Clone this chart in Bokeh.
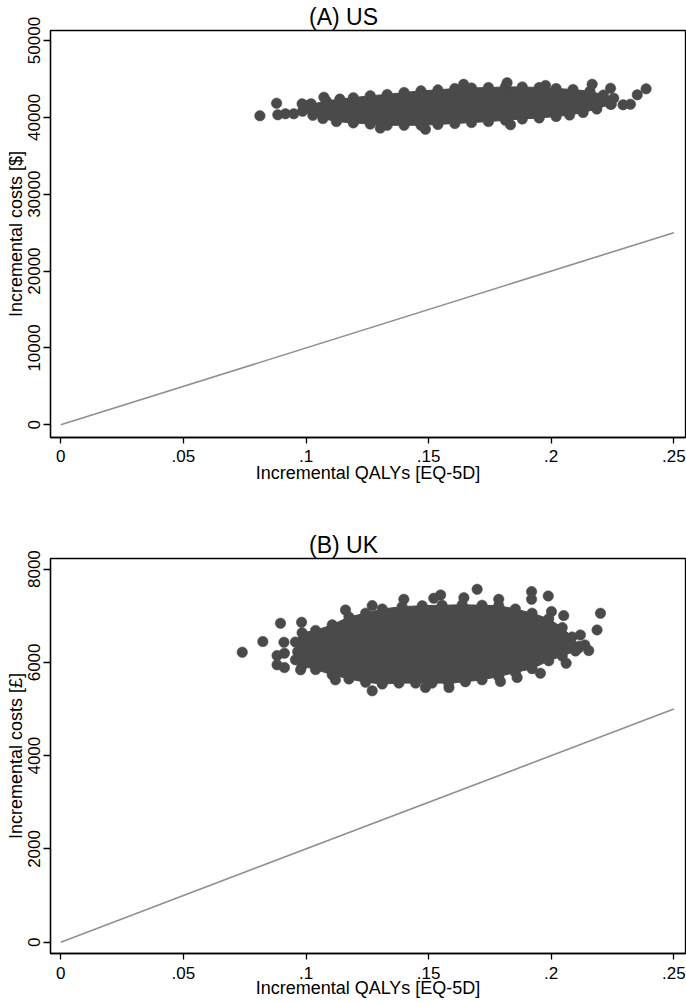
from bokeh.plotting import figure
from bokeh.layouts import column
from bokeh.models import Range1d, FixedTicker, CustomJSTickFormatter, BasicTickFormatter
from bokeh.embed import file_html
from bokeh.resources import INLINE

FONT = "Liberation Sans"
DOT = "#4a4a4a"
LINE = "#8f8f8f"

# ---------------- data ----------------
x_ticks = [0, 0.05, 0.1, 0.15, 0.2, 0.25]
us_y_ticks = [0, 10000, 20000, 30000, 40000, 50000]
uk_y_ticks = [0, 2000, 4000, 6000, 8000]

# willingness-to-pay threshold lines
wtp_x = [0, 0.25]
us_wtp_y = [0, 25000]
uk_wtp_y = [0, 5000]

# US bootstrap cloud: replicates along the rim of the dense core
# (top left->right, then bottom right->left); the core is filled between them
us_cloud_x = [0.0990, 0.1014, 0.1083, 0.1138, 0.1193, 0.1262, 0.1331, 0.1400, 0.1469, 0.1538,
              0.1607, 0.1675, 0.1744, 0.1813, 0.1882, 0.1951, 0.2020, 0.2089, 0.2158, 0.2213,
              0.2241, 0.2245,
              0.2241, 0.2186, 0.2130, 0.2075, 0.2020, 0.1951, 0.1882, 0.1813, 0.1744, 0.1675,
              0.1607, 0.1538, 0.1469, 0.1400, 0.1331, 0.1262, 0.1193, 0.1124, 0.1069, 0.1028,
              0.0986]
us_cloud_y = [41100, 41630, 42130, 42380, 42560, 42820, 42980, 43240, 43450, 43580,
              43750, 43830, 43880, 43960, 43960, 43880, 43750, 43620, 43400, 42900,
              42080, 41700,
              41720, 41080, 40640, 40300, 40120, 39920, 39790, 39620, 39450, 39320,
              39200, 39080, 38970, 38970, 38970, 39120, 39280, 39450, 39850, 40260,
              40800]
# US individual replicates visible outside the core
us_pts_x = [0.0812, 0.0880, 0.0885, 0.0916, 0.0950, 0.0984, 0.1021, 0.1073,
            0.2167, 0.2242, 0.2255, 0.2293, 0.2323, 0.2351, 0.2387,
            0.1643, 0.1820, 0.1977, 0.1303, 0.1487, 0.1834]
us_pts_y = [40207, 41841, 40337, 40467, 40467, 41763, 41763, 42620,
            44305, 43787, 42490, 41634, 41712, 42931, 43709,
            44300, 44500, 44150, 38600, 38450, 39040]

# UK bootstrap cloud: replicates along the rim of the dense core
uk_cloud_x = [0.0957, 0.0984, 0.1039, 0.1107, 0.1175, 0.1243, 0.1311, 0.1392, 0.1474, 0.1555,
              0.1637, 0.1718, 0.1786, 0.1854, 0.1922, 0.1990, 0.2045, 0.2085, 0.2113, 0.2110,
              0.2099, 0.2045, 0.1990, 0.1922, 0.1854, 0.1786, 0.1718, 0.1650, 0.1582, 0.1514,
              0.1447, 0.1379, 0.1311, 0.1243, 0.1175, 0.1107, 0.1039, 0.0984, 0.0957, 0.0966]
uk_cloud_y = [6435, 6635, 6685, 6805, 6975, 7055, 7145, 7195, 7215, 7225,
              7235, 7225, 7215, 7145, 7055, 6935, 6745, 6545, 6345, 6300,
              6245, 6135, 6035, 5865, 5785, 5695, 5625, 5585, 5555, 5555,
              5555, 5555, 5535, 5575, 5645, 5735, 5845, 5925, 6055, 6230]
# UK individual replicates visible outside the core
uk_pts_x = [0.0740, 0.0824, 0.0896, 0.0910, 0.0882, 0.0912, 0.0882, 0.0912, 0.0982, 0.0978,
            0.2201, 0.2187, 0.2153, 0.2137, 0.2119, 0.2061, 0.2051, 0.2001, 0.1988, 0.1920,
            0.1920, 0.1698, 0.1549, 0.1956,
            0.1161, 0.1270, 0.1399, 0.1521, 0.1644, 0.1786,
            0.1120, 0.1270, 0.1487, 0.1583, 0.1793, 0.1861]
uk_pts_y = [6218, 6446, 6839, 6432, 6146, 6196, 5947, 5890, 6860, 5840,
            7053, 6696, 6254, 6375, 6589, 5982, 7003, 7089, 7424, 7517,
            7353, 7567, 7446, 5768,
            7124, 7217, 7353, 7374, 7388, 7353,
            5625, 5390, 5461, 5461, 5590, 5675]

X_RANGE = (-0.0042, 0.25477)
TITLE_PX = 23


def panel(title, ylabel, yrange, yticks, height, border_top, border_bottom,
          line_y, cloud_x, cloud_y, pts_x, pts_y, x_std, x_axstd):
    p = figure(width=686, height=height,
               x_range=Range1d(*X_RANGE), y_range=Range1d(*yrange),
               output_backend="svg", toolbar_location=None,
               min_border_left=50, min_border_right=1,
               min_border_top=border_top, min_border_bottom=border_bottom)
    p.title.text = title
    # title centred on the whole graph (x = 343), not on the plot frame
    p.title.align = "left"
    p.title.offset = 343 - 50 - 1.5 * TITLE_PX
    p.title.text_font = FONT
    p.title.text_font_size = f"{TITLE_PX}px"
    p.title.text_font_style = "normal"
    p.title.text_color = "black"
    p.title.standoff = 2
    p.grid.visible = False
    p.outline_line_color = "black"
    p.outline_line_width = 1.3
    p.background_fill_color = "white"
    p.border_fill_color = "white"

    xa = p.xaxis[0]
    xa.ticker = FixedTicker(ticks=x_ticks)
    xa.formatter = CustomJSTickFormatter(code="""
        if (tick == 0) { return "0"; }
        return tick.toFixed(2).replace(/0+$/, "").replace(/^0/, "");
    """)
    xa.axis_label = "Incremental QALYs [EQ-5D]"
    ya = p.yaxis[0]
    ya.ticker = FixedTicker(ticks=yticks)
    ya.formatter = BasicTickFormatter(use_scientific=False)
    ya.axis_label = ylabel
    ya.major_label_orientation = "vertical"

    for ax in (xa, ya):
        ax.axis_line_color = "black"
        ax.axis_line_width = 1.3
        ax.major_tick_line_color = "black"
        ax.major_tick_line_width = 1.3
        ax.major_tick_in = 0
        ax.minor_tick_in = 0
        ax.minor_tick_out = 0
        ax.major_label_text_font = FONT
        ax.major_label_text_font_size = "17px"
        ax.major_label_text_color = "black"
        ax.axis_label_text_font = FONT
        ax.axis_label_text_font_size = "18px"
        ax.axis_label_text_font_style = "normal"
        ax.axis_label_text_color = "black"
    xa.major_tick_out = 6
    xa.major_label_standoff = x_std
    xa.axis_label_standoff = x_axstd
    ya.major_tick_out = 7
    ya.major_label_standoff = 3
    ya.axis_label_standoff = 0

    p.line(wtp_x, line_y, line_color=LINE, line_width=1.6)
    p.patch(cloud_x, cloud_y, fill_color=DOT, line_color=DOT, line_width=1)
    p.scatter(cloud_x, cloud_y, size=10.5, fill_color=DOT, line_color=DOT, line_width=0.5)
    p.scatter(pts_x, pts_y, size=10.5, fill_color=DOT, line_color=DOT, line_width=0.5)
    return p


# panel A: frame 29..437 ; panel B: frame 557..953
p1 = panel("(A) US", "Incremental costs [$]", (-1650, 51300), us_y_ticks,
           528, 29, 91, us_wtp_y, us_cloud_x, us_cloud_y, us_pts_x, us_pts_y, 6, -2)
p2 = panel("(B) UK", "Incremental costs [£]", (-242, 8227), uk_y_ticks,
           474, 29, 49, uk_wtp_y, uk_cloud_x, uk_cloud_y, uk_pts_x, uk_pts_y, 7, -4)

layout = column(p1, p2, spacing=0)
open("out.html", "w").write(file_html(layout, INLINE))
